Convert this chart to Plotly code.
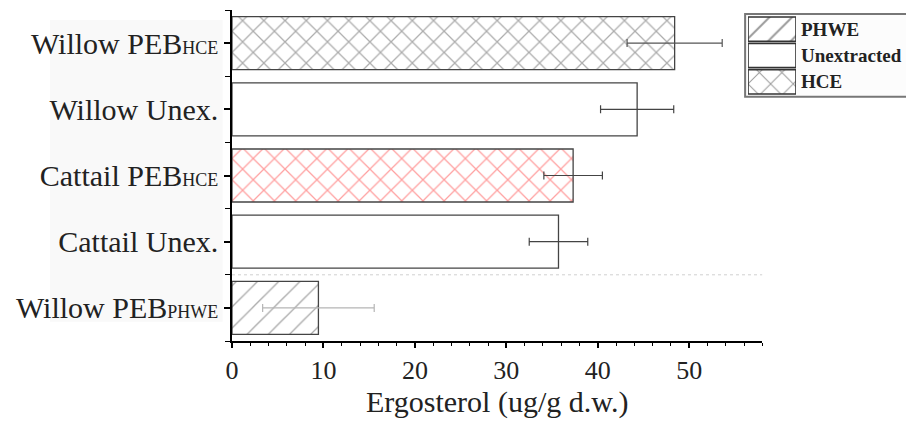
import plotly.graph_objects as go

# ---- data (bottom to top) ----
label_main = ["Willow PEB", "Cattail Unex.", "Cattail PEB", "Willow Unex.", "Willow PEB"]
label_sub = ["PHWE", "", "HCE", "", "HCE"]
values = [9.45, 35.7, 37.3, 44.3, 48.4]
errors = [6.1, 3.2, 3.2, 4.0, 5.2]
treatment = ["PHWE", "Unextracted", "HCE", "Unextracted", "HCE"]
legend_labels = ["PHWE", "Unextracted", "HCE"]
x_ticks = [0, 10, 20, 30, 40, 50]

# ---- styles ----
shape_of = {"PHWE": "/", "Unextracted": "", "HCE": "x"}
size_of = {"PHWE": 15, "Unextracted": 8, "HCE": 15}
solidity_of = {"PHWE": 0.09, "Unextracted": 0.1, "HCE": 0.16}
fg_colors = ["#555555", "#555555", "#ff4040", "#555555", "#5a5a5a"]
err_colors = ["#b5b5b5", "#444444", "#444444", "#444444", "#555555"]
FONT = "Liberation Serif, Times New Roman, serif"

fig = go.Figure()
ypos = list(range(len(values)))
for i in ypos:
    t = treatment[i]
    fig.add_trace(go.Bar(
        x=[values[i]], y=[ypos[i]], orientation="h", width=0.8,
        marker=dict(color="white", line=dict(color="#444444", width=1.3),
                    pattern=dict(shape=shape_of[t], fgcolor=fg_colors[i],
                                 bgcolor="white", size=size_of[t], solidity=solidity_of[t])),
        error_x=dict(type="data", array=[errors[i]], color=err_colors[i],
                     thickness=1.2, width=4),
        showlegend=False, hoverinfo="x+y",
    ))

# custom legend swatches on their own small axes
leg_y = list(range(len(legend_labels)))[::-1]
for lab, yy in zip(legend_labels, leg_y):
    fig.add_trace(go.Bar(
        x=[1], y=[yy], orientation="h", width=0.92, xaxis="x2", yaxis="y2",
        marker=dict(color="white", line=dict(color="#333333", width=1.6),
                    pattern=dict(shape=shape_of[lab], fgcolor="#333333",
                                 bgcolor="white", size=16, solidity=0.12)),
        showlegend=False, hoverinfo="skip",
    ))
    fig.add_annotation(text="<b>%s</b>" % lab, xref="paper", yref="y2",
                       x=0.8415, y=yy, xanchor="left", yanchor="middle",
                       showarrow=False, font=dict(family=FONT, size=19, color="#222222"))

ticktext = [m + ("<span style='font-size:18px'>%s</span>" % s if s else "")
            for m, s in zip(label_main, label_sub)]

fig.update_layout(
    width=906, height=421,
    margin=dict(l=232, r=0, t=10, b=80),
    paper_bgcolor="white", plot_bgcolor="rgba(0,0,0,0)",
    font=dict(family=FONT, color="#222222"),
    xaxis=dict(domain=[0, 0.787], range=[0, 58], tickvals=x_ticks,
               ticks="outside", ticklen=5, tickwidth=1.5, tickcolor="black",
               minor=dict(dtick=2, ticks="outside", ticklen=3, tickwidth=1.2, tickcolor="black"),
               showline=True, linecolor="black", linewidth=1.5,
               showgrid=False, zeroline=False,
               tickfont=dict(family=FONT, size=26, color="#222222"),
               title=dict(text="Ergosterol (ug/g d.w.)", standoff=4,
                          font=dict(family=FONT, size=30, color="#222222"))),
    yaxis=dict(range=[-0.5, 4.5], tickvals=ypos, ticktext=ticktext,
               ticks="outside", ticklen=6, tickwidth=1.5, tickcolor="black",
               minor=dict(tickvals=[-0.5, 0.5, 1.5, 2.5, 3.5, 4.5], ticks="outside",
                          ticklen=5, tickwidth=1.2, tickcolor="black"),
               showline=True, linecolor="black", linewidth=1.5,
               showgrid=False, zeroline=False,
               tickfont=dict(family=FONT, size=30, color="#222222")),
    xaxis2=dict(domain=[0.7656, 0.8368], range=[0, 1], visible=False, anchor="y2"),
    yaxis2=dict(domain=[0.7432, 0.9819], range=[-0.5, 2.5], visible=False, anchor="x2"),
    shapes=[
        dict(type="rect", xref="paper", yref="paper", x0=-0.270, x1=-0.0138,
             y0=0.058, y1=0.970, fillcolor="#f9f9f9", line=dict(width=0), layer="below"),
        dict(type="line", xref="x", yref="y", x0=0, x1=58, y0=0.5, y1=0.5,
             line=dict(color="#d0d0d0", width=1, dash="dot"), layer="below"),
        dict(type="rect", xref="paper", yref="paper", x0=0.7613, x1=1.01,
             y0=0.738, y1=0.988, fillcolor="#fcfcfc", line=dict(color="#777777", width=2),
             layer="below"),
    ],
)

fig.write_html("out.html")
